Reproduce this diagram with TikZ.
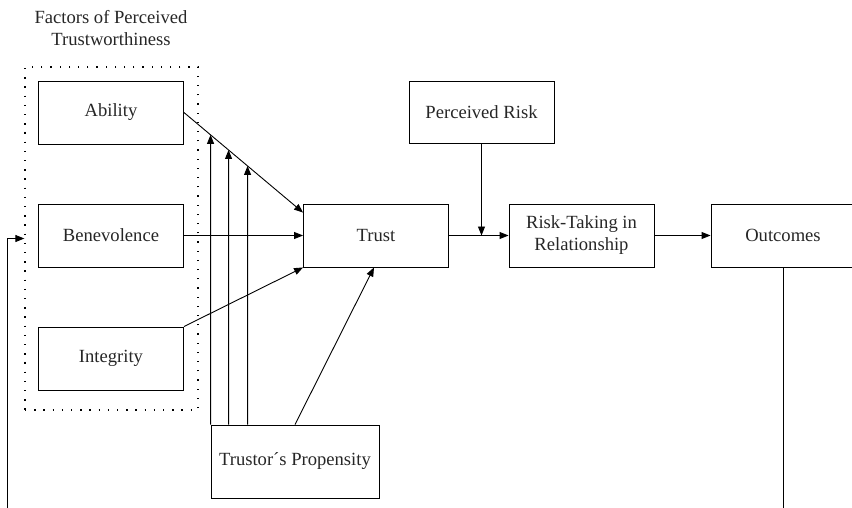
\documentclass[tikz,border=0pt]{standalone}
\usepackage{fontspec}
\setmainfont{Liberation Serif}
\usetikzlibrary{arrows.meta,calc,intersections}
\begin{document}
\begin{tikzpicture}[x=1pt,y=-1pt,
  every node/.style={font=\rmfamily\fontsize{18.6}{22}\selectfont, text=black!85},
  box/.style={draw=black, line width=0.9pt, rectangle, inner sep=0pt, minimum width=145pt, minimum height=63pt, align=center},
  conn/.style={draw=black, line width=0.9pt},
  arr/.style={conn, -{Triangle[length=9pt,width=7pt]}},
  dotbox/.style={draw=black, line width=1.3pt, dash pattern=on 1.3pt off 7.9pt, rectangle, inner sep=0pt}
]
\useasboundingbox (0,0) rectangle (852,507);

% title
\node[align=center] (title) at (111,28) {Factors of Perceived\\Trustworthiness};

% dotted group
\node[dotbox, minimum width=173pt, minimum height=343pt] (factors) at (111.5,238.5) {};

% boxes
\node[box] (ability) at (111,112.5) {Ability};
\node[box] (benev) at (111,235.5) {Benevolence};
\node[box] (integ) at (111,358.5) {Integrity};
\node[box] (trust) at (376,235.5) {Trust};
\node[box, minimum height=62pt] (prisk) at (481.5,112.5) {Perceived Risk};
\node[box] (risk) at (581.5,235.5) {Risk-Taking in\\Relationship};
\node[box, minimum width=144pt] (outc) at (783,235.5) {Outcomes};
\node[box, minimum width=168pt, minimum height=73pt] (prop) at (295,461.5) {Trustor´s Propensity};

% helper coordinates
\coordinate (t1) at ([yshift=-9pt]trust.north west);
\coordinate (v1) at (prop.north west);
\coordinate (v2) at ([xshift=18pt]prop.north west);
\coordinate (v3) at ([xshift=37pt]prop.north west);

% ability -> trust
\draw[arr, name path=al] (ability.east) -- (t1);
\path[name path=p1] (v1) -- ++(0,-400);
\path[name path=p2] (v2) -- ++(0,-400);
\path[name path=p3] (v3) -- ++(0,-400);
\path[name intersections={of=al and p1, by=i1}];
\path[name intersections={of=al and p2, by=i2}];
\path[name intersections={of=al and p3, by=i3}];
\draw[arr] (v1) -- (i1);
\draw[arr] (v2) -- (i2);
\draw[arr] (v3) -- (i3);

\draw[arr] (benev.east) -- (trust.west);
\draw[arr] (integ.north east) -- (trust.south west);
\draw[arr] (prop.north) -- ([xshift=-2pt]trust.south);

\draw[arr] (trust.east) -- (risk.west);
\coordinate (pm) at (prisk.south |- trust.east);
\draw[arr] (prisk.south) -- (pm);
\draw[arr] (risk.east) -- (outc.west);

% feedback loop
\coordinate (fbl) at (7,514);
\draw[arr] (outc.south) |- (fbl) |- (factors.west);
\end{tikzpicture}
\end{document}
